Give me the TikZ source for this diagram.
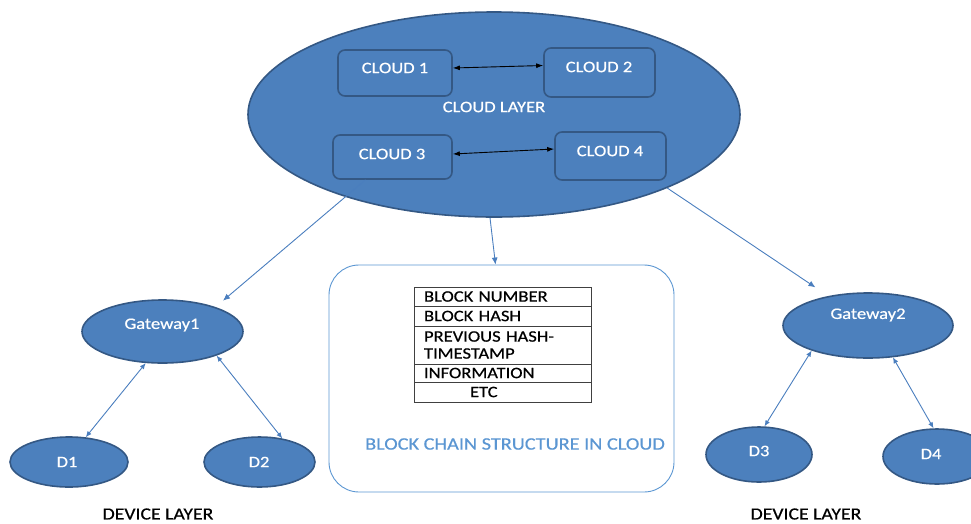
\documentclass[tikz,border=0pt]{standalone}
\usepackage{fontspec}
\setmainfont{Carlito}
\newfontfamily\widefont[FakeStretch=1.16,FakeBold=0.5]{Carlito}
\usetikzlibrary{shapes.geometric,arrows.meta,calc}
\definecolor{fillblue}{RGB}{76,128,189}
\definecolor{edgeblue}{RGB}{52,88,132}
\definecolor{arrowblue}{RGB}{74,126,190}
\definecolor{lightblue}{RGB}{91,150,210}
\begin{document}
\begin{tikzpicture}[x=1pt,y=-1pt,
  ell/.style={ellipse,draw=edgeblue,line width=1.6pt,fill=fillblue,inner sep=0pt},
  cbox/.style={rectangle,rounded corners=7pt,draw=edgeblue,line width=1.6pt,fill=fillblue,inner sep=0pt},
  wlbl/.style={text=white,font=\widefont\fontsize{16}{18}\selectfont,inner sep=0pt},
  blbl/.style={text=black,font=\widefont\fontsize{17}{19}\selectfont,inner sep=0pt},
  row/.style={rectangle,draw=black!75,line width=0.8pt,minimum width=177pt,text width=157pt,inner xsep=10pt,inner ysep=0pt,align=left,font=\widefont\fontsize{16}{17}\selectfont},
  frame/.style={rectangle,rounded corners=30pt,draw=lightblue,line width=0.9pt},
  barrow/.style={draw=arrowblue,line width=0.9pt,-{Latex[length=7pt,width=6pt]}},
  darrow/.style={draw=arrowblue,line width=0.9pt,{Latex[length=6pt,width=5pt]}-{Latex[length=6pt,width=5pt]}},
  karrow/.style={draw=black,line width=0.9pt,{Latex[length=7pt,width=5pt]}-{Latex[length=7pt,width=5pt]}}]
\useasboundingbox (0,0) rectangle (971,523);
\clip (0,0) rectangle (971,523);

% cloud layer
\node[ell,minimum width=492pt,minimum height=205pt] (cl) at (494,114.5) {};
\node[wlbl] (cltext) at (494,107) {CLOUD LAYER};
\node[cbox,minimum width=114pt,minimum height=46pt] (c1) at (395,73) {};
\node[cbox,minimum width=111pt,minimum height=49pt] (c2) at (599.5,72.5) {};
\node[cbox,minimum width=119pt,minimum height=44pt] (c3) at (392.5,157) {};
\node[cbox,minimum width=111pt,minimum height=48pt] (c4) at (610.5,156) {};
\node[wlbl] (c1t) at (395,68) {CLOUD 1};
\node[wlbl] (c2t) at (599,67) {CLOUD 2};
\node[wlbl] (c3t) at (392,154) {CLOUD 3};
\node[wlbl] (c4t) at (610,151) {CLOUD 4};
\draw[karrow] ([yshift=5pt]c1.east) -- ([yshift=7pt]c2.west);
\draw[karrow] ([yshift=3pt]c3.east) -- ([yshift=7pt]c4.west);

% block chain frame
\node[frame,minimum width=345pt,minimum height=227pt] (bc) at (501.5,378.5) {};
\node[row,minimum height=19pt] (r1) at (502.5,296.5) {BLOCK NUMBER};
\node[row,minimum height=20pt] (r2) at (502.5,316) {BLOCK HASH};
\node[row,minimum height=38pt] (r3) at (502.5,345) {PREVIOUS HASH-\\TIMESTAMP};
\node[row,minimum height=18pt] (r4) at (502.5,373) {INFORMATION};
\node[row,minimum height=20pt] (r5) at (502.5,392) {\hspace*{46pt}ETC};
\node[text=lightblue,font=\widefont\fontsize{17.5}{19}\selectfont,inner sep=0pt] (bct) at (515,444) {BLOCK CHAIN STRUCTURE IN CLOUD};

% gateways and devices
\node[ell,minimum width=161pt,minimum height=63pt] (g1) at (162.5,331.5) {};
\node[ell,minimum width=118pt,minimum height=50pt] (d1) at (69,462) {};
\node[ell,minimum width=111pt,minimum height=50pt] (d2) at (259.5,462) {};
\node[ell,minimum width=170pt,minimum height=65pt] (g2) at (868,325.5) {};
\node[ell,minimum width=106pt,minimum height=55pt] (d3) at (759,454.5) {};
\node[ell,minimum width=108pt,minimum height=55pt] (d4) at (937,456.5) {};
\node[wlbl] (g1t) at (162,325) {Gateway1};
\node[wlbl] (d1t) at (67,462) {D1};
\node[wlbl] (d2t) at (259,462) {D2};
\node[wlbl] (g2t) at (868,315) {Gateway2};
\node[wlbl] (d3t) at (759,451) {D3};
\node[wlbl] (d4t) at (931,454) {D4};
\node[blbl] (dl1) at (158,514) {DEVICE LAYER};
\node[blbl] (dl2) at (806,514) {DEVICE LAYER};

% connectors
\draw[barrow] ([xshift=-27pt]c3.south) -- ([shift={(3pt,8pt)}]g1.north east);
\draw[barrow] (cl.-23) -- ([shift={(-11pt,9pt)}]g2.145);
\draw[barrow] ([xshift=-4pt]cl.south) -- ([xshift=-6pt]bc.north);
\draw[darrow] (g1.242) -- (d1.56);
\draw[darrow] (g1.-24) -- (d2.46);
\draw[darrow] (g2.204) -- (d3.79);
\draw[darrow] (g2.-52) -- (d4.97);
\end{tikzpicture}
\end{document}
